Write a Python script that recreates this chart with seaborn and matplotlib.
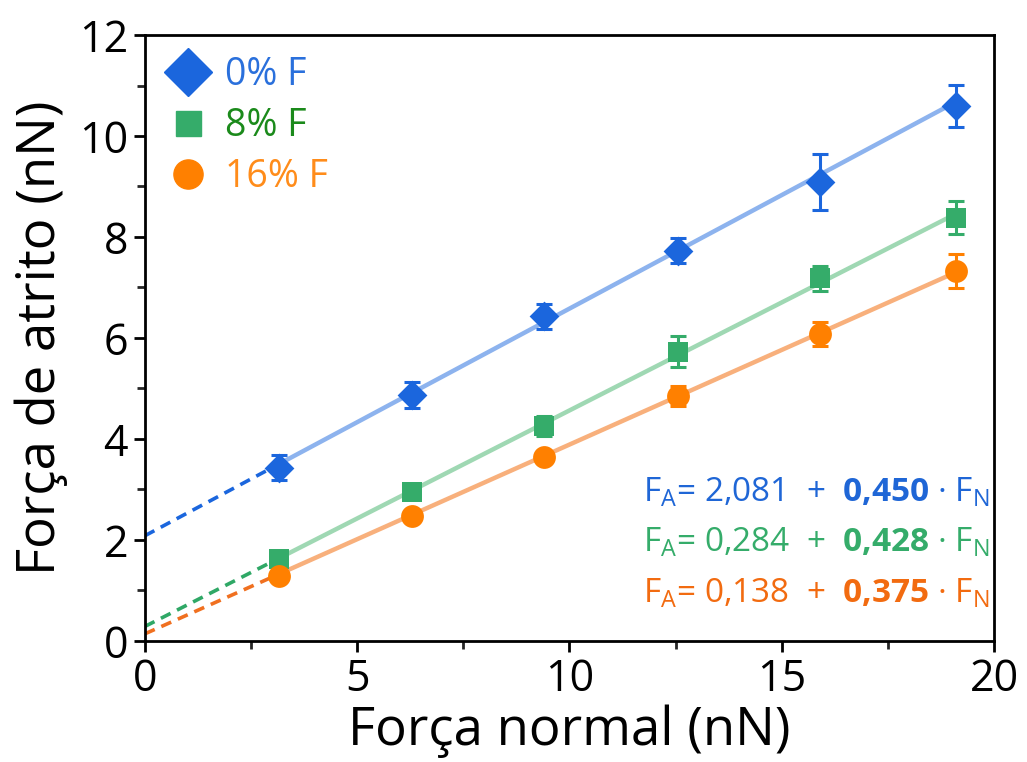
import numpy as np
import pandas as pd
import matplotlib
matplotlib.use("Agg")
import matplotlib.pyplot as plt
from matplotlib.lines import Line2D
from matplotlib.ticker import MultipleLocator
import seaborn as sns

# ---- data ----
series = ["0% F", "8% F", "16% F"]
forca_normal = [3.15, 6.3, 9.4, 12.55, 15.9, 19.1]
atrito_0 = [3.43, 4.87, 6.43, 7.73, 9.09, 10.60]
erro_0 = [0.25, 0.25, 0.25, 0.25, 0.56, 0.42]
atrito_8 = [1.63, 2.94, 4.25, 5.73, 7.18, 8.38]
erro_8 = [0.10, 0.10, 0.20, 0.30, 0.25, 0.33]
atrito_16 = [1.29, 2.48, 3.65, 4.85, 6.08, 7.33]
erro_16 = [0.10, 0.10, 0.12, 0.20, 0.23, 0.34]
intercepts = [2.081, 0.284, 0.138]
slopes = [0.450, 0.428, 0.375]
intercept_txt = ["2,081", "0,284", "0,138"]
slope_txt = ["0,450", "0,428", "0,375"]

# ---- styles ----
marker_colors = ["#1b66dd", "#35ac6a", "#ff8000"]
line_colors = ["#8db3ee", "#9fd8b3", "#f8b07c"]
dash_colors = ["#1b66dd", "#2fa866", "#f07020"]
legend_text_colors = ["#2a70dc", "#1b8a1b", "#ff8c1a"]
eq_colors = ["#1f66d6", "#35ac6a", "#f26b10"]
markers = ["D", "s", "o"]
msizes = [230, 200, 270]

sns.set_theme(style="white")
plt.rcParams["font.family"] = ["Open Sans", "DejaVu Sans"]
plt.rcParams["mathtext.fontset"] = "custom"
plt.rcParams["mathtext.rm"] = "Open Sans"
plt.rcParams["mathtext.bf"] = "Open Sans:bold"

fig = plt.figure(figsize=(10.27, 7.62), dpi=100)
ax = fig.add_axes([0.141, 0.159, 0.827, 0.795])

ys = [atrito_0, atrito_8, atrito_16]
errs = [erro_0, erro_8, erro_16]
rows = []
for s, y, e in zip(series, ys, errs):
    for xv, yv, ev in zip(forca_normal, y, e):
        rows.append({"x": xv, "y": yv, "err": ev, "serie": s})
df = pd.DataFrame(rows)

# fit lines
for i, s in enumerate(series):
    x0, x1, x2 = 0.0, forca_normal[0], forca_normal[-1]
    fit = pd.DataFrame({"x": [x1, x2], "y": [intercepts[i] + slopes[i] * x1, intercepts[i] + slopes[i] * x2]})
    ext = pd.DataFrame({"x": [x0, x1], "y": [intercepts[i] + slopes[i] * x0, intercepts[i] + slopes[i] * x1]})
    sns.lineplot(data=fit, x="x", y="y", ax=ax, color=line_colors[i], lw=3.2, zorder=2)
    sns.lineplot(data=ext, x="x", y="y", ax=ax, color=dash_colors[i], lw=2.6, ls=(0, (3, 2)), zorder=2)

# error bars
for i, s in enumerate(series):
    d = df[df.serie == s]
    ax.errorbar(d.x, d.y, yerr=d.err, fmt="none", ecolor=marker_colors[i],
                elinewidth=2.2, capsize=6, capthick=2.2, zorder=3)

# markers
for i, s in enumerate(series):
    d = df[df.serie == s]
    sns.scatterplot(data=d, x="x", y="y", color=marker_colors[i], marker=markers[i],
                    s=msizes[i], ax=ax, legend=False, linewidth=0, zorder=4)

ax.set_xlim(0, 20)
ax.set_ylim(0, 12)
ax.xaxis.set_major_locator(MultipleLocator(5))
ax.xaxis.set_minor_locator(MultipleLocator(2.5))
ax.yaxis.set_major_locator(MultipleLocator(2))
ax.yaxis.set_minor_locator(MultipleLocator(1))
ax.tick_params(axis="both", which="major", direction="out", length=8, width=2,
               labelsize=31, colors="black", bottom=True, left=True, pad=4)
ax.tick_params(axis="both", which="minor", direction="out", length=6, width=2,
               bottom=True, left=True)
for sp in ax.spines.values():
    sp.set_linewidth(2)
    sp.set_color("black")
ax.set_xlabel("Força normal (nN)", fontsize=38, labelpad=2, color="black")
ax.set_ylabel("Força de atrito (nN)", fontsize=38, labelpad=8, color="black")

# legend
handles = [Line2D([], [], marker=m, color=c, ls="none", markersize=ms)
           for m, c, ms in zip(markers, marker_colors, [24, 18, 21])]
leg = ax.legend(handles, series, loc="upper left", frameon=False, fontsize=27,
                handletextpad=0.4, labelspacing=0.35, borderaxespad=0.15,
                handlelength=1.2, bbox_to_anchor=(0.0, 1.0))
for t, c in zip(leg.get_texts(), legend_text_colors):
    t.set_color(c)

# equations
for i in range(3):
    txt = (r"F$_\mathregular{A}$= " + intercept_txt[i] + "  +  "
           + r"$\mathbf{" + slope_txt[i].replace(",", "{,}") + r"}$" + r" · F$_\mathregular{N}$")
    ax.text(0.995, 0.245 - i * 0.083, txt, transform=ax.transAxes, ha="right", va="center",
            fontsize=24, color=eq_colors[i])

fig.savefig("out.png", dpi=100)
